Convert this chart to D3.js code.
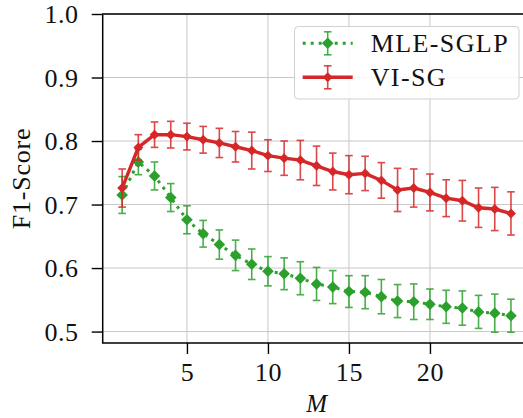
<!DOCTYPE html>
<html>
<head>
<meta charset="utf-8">
<script src="https://cdn.jsdelivr.net/npm/d3@7"></script>
<style>
  html, body { margin: 0; padding: 0; background: #fff; }
  svg { display: block; }
  text { font-family: "Liberation Serif", "DejaVu Serif", serif; fill: #111; }
</style>
</head>
<body>
<svg id="chart" width="523" height="418"></svg>
<script>
// ---- data ----
const M = [1,2,3,4,5,6,7,8,9,10,11,12,13,14,15,16,17,18,19,20,21,22,23,24,25];
const mleMean = [0.715,0.767,0.745,0.711,0.676,0.654,0.637,0.620,0.606,0.595,0.591,0.584,0.575,0.570,0.563,0.562,0.555,0.548,0.547,0.543,0.539,0.537,0.531,0.529,0.525];
const mleErr  = [0.029,0.020,0.022,0.022,0.022,0.021,0.023,0.024,0.024,0.023,0.025,0.026,0.026,0.026,0.025,0.026,0.027,0.026,0.028,0.024,0.026,0.027,0.026,0.030,0.026];
const viMean  = [0.726,0.790,0.810,0.810,0.807,0.802,0.797,0.791,0.785,0.777,0.773,0.770,0.761,0.752,0.747,0.749,0.738,0.723,0.726,0.719,0.710,0.706,0.695,0.693,0.686];
const viErr   = [0.030,0.020,0.020,0.021,0.021,0.021,0.023,0.024,0.029,0.025,0.027,0.031,0.031,0.029,0.030,0.027,0.028,0.034,0.030,0.029,0.029,0.032,0.031,0.034,0.034];
const xTicks = [5,10,15,20];
const yTicks = [0.5,0.6,0.7,0.8,0.9,1.0];
const yTickLabels = ["0.5","0.6","0.7","0.8","0.9","1.0"];
const seriesNames = ["MLE-SGLP","VI-SG"];
const xLabel = "M";
const yLabel = "F1-Score";

// ---- layout ----
const svg = d3.select("#chart");
const pLeft = 102.7, pRight = 530.4, pTop = 14, pBottom = 343;
const x = d3.scaleLinear().domain([-0.2, 26.2]).range([pLeft, pRight]);
const y = d3.scaleLinear().domain([0.482, 1.0]).range([pBottom, pTop]);
const green = "#2ca02c", red = "#d62728";
const FONT = '"Liberation Serif", serif';

// grid
const grid = svg.append("g");
grid.selectAll(".gy").data(yTicks).enter().append("line")
  .attr("x1", pLeft).attr("x2", pRight)
  .attr("y1", d => y(d)).attr("y2", d => y(d))
  .attr("stroke", "#c8c8c8").attr("stroke-width", 1);
grid.selectAll(".gx").data(xTicks).enter().append("line")
  .attr("y1", pTop).attr("y2", pBottom)
  .attr("x1", d => x(d)).attr("x2", d => x(d))
  .attr("stroke", "#c8c8c8").attr("stroke-width", 1);

// axes
const yAxis = d3.axisLeft(y).tickValues(yTicks).tickFormat((d,i) => yTickLabels[i])
  .tickSizeInner(11).tickSizeOuter(0).tickPadding(13);
const xAxis = d3.axisBottom(x).tickValues(xTicks).tickFormat(d3.format("d"))
  .tickSizeInner(11).tickSizeOuter(0).tickPadding(13);

const gy = svg.append("g").attr("transform", `translate(${pLeft},0)`).call(yAxis);
const gx = svg.append("g").attr("transform", `translate(0,${pBottom})`).call(xAxis);
[gy, gx].forEach(g => {
  g.select(".domain").remove();
  g.selectAll(".tick line").attr("stroke", "#000").attr("stroke-width", 1.4);
  g.selectAll(".tick text").style("font-family", FONT)
    .style("font-size", "26px").style("letter-spacing", "0.6px").attr("fill", "#111");
});
gy.selectAll(".tick text").attr("dy", "0.33em");
gx.selectAll(".tick text").attr("dy", "0.55em");

function drawSeries(mean, err, color, dashed, msize) {
  const g = svg.append("g");
  // error bars
  const eb = g.selectAll(".eb").data(M).enter().append("g").attr("opacity", 0.85);
  eb.append("line")
    .attr("x1", d => x(d)).attr("x2", d => x(d))
    .attr("y1", (d,i) => y(mean[i] - err[i])).attr("y2", (d,i) => y(mean[i] + err[i]))
    .attr("stroke", color).attr("stroke-width", 1.6);
  [-1, 1].forEach(s => {
    eb.append("line")
      .attr("x1", d => x(d) - 3.8).attr("x2", d => x(d) + 3.8)
      .attr("y1", (d,i) => y(mean[i] + s * err[i])).attr("y2", (d,i) => y(mean[i] + s * err[i]))
      .attr("stroke", color).attr("stroke-width", 1.6);
  });
  // line
  const line = d3.line().x((d,i) => x(M[i])).y(d => y(d));
  g.append("path").datum(mean).attr("d", line)
    .attr("fill", "none").attr("stroke", color)
    .attr("stroke-width", dashed ? 3 : 3.4)
    .attr("stroke-dasharray", dashed ? "3,5" : null);
  // markers
  const sym = d3.symbol().type(d3.symbolSquare).size(msize * msize);
  g.selectAll(".mk").data(mean).enter().append("path")
    .attr("d", sym())
    .attr("transform", (d,i) => `translate(${x(M[i])},${y(d)}) rotate(45)`)
    .attr("fill", color);
}
drawSeries(mleMean, mleErr, green, true, 8.2);
drawSeries(viMean, viErr, red, false, 7);

// spines
svg.append("line").attr("x1", pLeft).attr("x2", pLeft).attr("y1", pTop).attr("y2", pBottom)
  .attr("stroke", "#000").attr("stroke-width", 1.5);
svg.append("line").attr("x1", pLeft - 0.75).attr("x2", pRight).attr("y1", pBottom).attr("y2", pBottom)
  .attr("stroke", "#000").attr("stroke-width", 1.5);
svg.append("line").attr("x1", pLeft - 0.75).attr("x2", pRight).attr("y1", pTop).attr("y2", pTop)
  .attr("stroke", "#000").attr("stroke-width", 1.5);

// axis labels
svg.append("text").attr("x", (pLeft + pRight) / 2).attr("y", 411.5)
  .attr("text-anchor", "middle").style("font-family", FONT).style("font-size", "25px").style("font-style", "italic")
  .text(xLabel);
svg.append("text").attr("transform", `translate(30,${(pTop + pBottom) / 2}) rotate(-90)`)
  .attr("text-anchor", "middle").style("font-family", FONT).style("font-size", "26px").style("letter-spacing", "0.8px")
  .text(yLabel);

// legend
const lg = svg.append("g");
lg.append("rect").attr("x", 294.5).attr("y", 26.5).attr("width", 224.5).attr("height", 72.5)
  .attr("rx", 4).attr("fill", "#fff").attr("fill-opacity", 0.85)
  .attr("stroke", "#d0d0d0").attr("stroke-width", 1);
const legendRows = [
  {name: seriesNames[0], color: green, dashed: true, ms: 8.2, cy: 43.3},
  {name: seriesNames[1], color: red, dashed: false, ms: 7, cy: 77.3}
];
legendRows.forEach(r => {
  const g = lg.append("g");
  g.append("line").attr("x1", 302.7).attr("x2", 352.7).attr("y1", r.cy).attr("y2", r.cy)
    .attr("stroke", r.color).attr("stroke-width", r.dashed ? 3 : 3.4)
    .attr("stroke-dasharray", r.dashed ? "3,5" : null);
  const cx = 327.7;
  g.append("line").attr("x1", cx).attr("x2", cx).attr("y1", r.cy - 11.5).attr("y2", r.cy + 11.5)
    .attr("stroke", r.color).attr("stroke-width", 1.6).attr("opacity", 0.85);
  [-11.5, 11.5].forEach(o => g.append("line").attr("x1", cx - 3.8).attr("x2", cx + 3.8)
    .attr("y1", r.cy + o).attr("y2", r.cy + o).attr("stroke", r.color).attr("stroke-width", 1.6).attr("opacity", 0.85));
  g.append("path").attr("d", d3.symbol().type(d3.symbolSquare).size(r.ms * r.ms)())
    .attr("transform", `translate(${cx},${r.cy}) rotate(45)`).attr("fill", r.color);
  g.append("text").attr("x", 370.7).attr("y", r.cy + 8.6)
    .style("font-family", FONT).style("font-size", "26px").style("letter-spacing", "1.4px").text(r.name);
});
</script>
</body>
</html>
